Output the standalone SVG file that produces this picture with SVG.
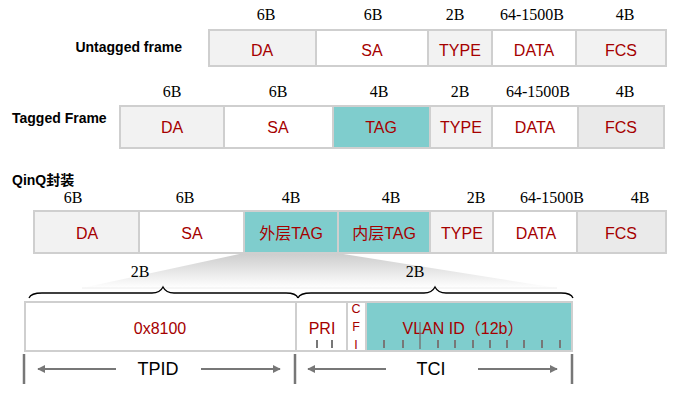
<svg xmlns="http://www.w3.org/2000/svg" width="674" height="398" viewBox="0 0 674 398">
<style>
.cell{stroke:#cfcfcf;stroke-width:2}
.g{fill:#f2f2f2}.w{fill:#ffffff}.t{fill:#7fcdcd}.d{fill:#eaeaea}
.lbl{font-family:"Liberation Sans","Noto Sans CJK SC",sans-serif;font-size:16px;fill:#a50000;text-anchor:middle}
.cfi{font-size:12.5px}
.sz{font-family:"Liberation Serif",serif;font-size:16px;fill:#000;text-anchor:middle}
.hd{font-family:"Liberation Sans","Noto Sans CJK SC",sans-serif;font-size:14px;font-weight:bold;fill:#000}
.dim{font-family:"Liberation Sans",sans-serif;font-size:18px;fill:#000;text-anchor:middle}
.tick{stroke:#777;stroke-width:2}
.arr{stroke:#777;stroke-width:2;fill:none}
.brace{stroke:#000;stroke-width:1.3;fill:none}
</style>
<defs>
<linearGradient id="fan" x1="0" y1="0" x2="0" y2="1">
<stop offset="0" stop-color="#cccccc"/>
<stop offset="1" stop-color="#ffffff"/>
</linearGradient>
<marker id="ah" viewBox="0 0 10 10" refX="9" refY="5" markerWidth="4" markerHeight="4" orient="auto-start-reverse">
<path d="M0,0 L10,5 L0,10 z" fill="#777"/>
</marker>
</defs>

<text class="hd" x="182" y="52" text-anchor="end">Untagged frame</text>
<text class="hd" x="12" y="123">Tagged Frame</text>
<text class="hd" x="12" y="185">QinQ封装</text>

<g id="untagged">
<rect class="cell g" x="209" y="30" width="107" height="36"/>
<rect class="cell w" x="316" y="30" width="112" height="36"/>
<rect class="cell g" x="428" y="30" width="64" height="36"/>
<rect class="cell w" x="492" y="30" width="84" height="36"/>
<rect class="cell g" x="576" y="30" width="90" height="36"/>
<text class="lbl" x="262" y="56">DA</text>
<text class="lbl" x="372" y="56">SA</text>
<text class="lbl" x="460" y="56">TYPE</text>
<text class="lbl" x="534" y="56">DATA</text>
<text class="lbl" x="621" y="56">FCS</text>
<text class="sz" x="266" y="20">6B</text>
<text class="sz" x="373" y="20">6B</text>
<text class="sz" x="455" y="20">2B</text>
<text class="sz" x="532" y="20">64-1500B</text>
<text class="sz" x="625" y="20">4B</text>
</g>

<g id="tagged">
<rect class="cell g" x="120" y="106" width="104" height="42"/>
<rect class="cell w" x="224" y="106" width="109" height="42"/>
<rect class="cell t" x="333" y="106" width="97" height="42"/>
<rect class="cell g" x="430" y="106" width="62" height="42"/>
<rect class="cell w" x="492" y="106" width="86" height="42"/>
<rect class="cell d" x="578" y="106" width="86" height="42"/>
<text class="lbl" x="172" y="133">DA</text>
<text class="lbl" x="278" y="133">SA</text>
<text class="lbl" x="381" y="133">TAG</text>
<text class="lbl" x="461" y="133">TYPE</text>
<text class="lbl" x="535" y="133">DATA</text>
<text class="lbl" x="621" y="133">FCS</text>
<text class="sz" x="172" y="97">6B</text>
<text class="sz" x="278" y="97">6B</text>
<text class="sz" x="379" y="97">4B</text>
<text class="sz" x="460" y="97">2B</text>
<text class="sz" x="538" y="97">64-1500B</text>
<text class="sz" x="625" y="97">4B</text>
</g>

<g id="fan-shape">
<polygon points="244,253 337,253 557,288 82,288" fill="url(#fan)"/>
<polyline points="82,288 557,288" stroke="#eeeeee" stroke-width="1" fill="none"/>
</g>

<g id="qinq">
<rect class="cell g" x="34" y="211" width="105" height="42"/>
<rect class="cell w" x="139" y="211" width="105" height="42"/>
<rect class="cell t" x="244" y="211" width="94" height="42"/>
<rect class="cell t" x="338" y="211" width="92" height="42"/>
<rect class="cell g" x="430" y="211" width="63" height="42"/>
<rect class="cell w" x="493" y="211" width="84" height="42"/>
<rect class="cell d" x="577" y="211" width="89" height="42"/>
<text class="lbl" x="87" y="239">DA</text>
<text class="lbl" x="192" y="239">SA</text>
<text class="lbl" x="291" y="239">外层TAG</text>
<text class="lbl" x="384" y="239">内层TAG</text>
<text class="lbl" x="462" y="239">TYPE</text>
<text class="lbl" x="536" y="239">DATA</text>
<text class="lbl" x="621" y="239">FCS</text>
<text class="sz" x="73" y="203">6B</text>
<text class="sz" x="185" y="203">6B</text>
<text class="sz" x="291" y="203">4B</text>
<text class="sz" x="391" y="203">4B</text>
<text class="sz" x="476" y="203">2B</text>
<text class="sz" x="552" y="203">64-1500B</text>
<text class="sz" x="640" y="203">4B</text>
</g>

<g id="braces">
<path class="brace" d="M29,298 Q31,293 42,293 L152,293 Q160,293 163,287 Q166,293 174,293 L286,293 Q296,293 298,298"/>
<path class="brace" d="M298,298 Q300,293 311,293 L424,293 Q432,293 435,287 Q438,293 446,293 L561,293 Q571,293 573,298"/>
<text class="sz" x="140" y="277">2B</text>
<text class="sz" x="415" y="277">2B</text>
</g>

<g id="tag-detail">
<rect class="cell w" x="25" y="302" width="271" height="49"/>
<rect class="cell w" x="296" y="302" width="51" height="49"/>
<rect class="cell w" x="347" y="302" width="19" height="49"/>
<rect class="cell t" x="366" y="302" width="206" height="49"/>
<text class="lbl" x="160" y="334">0x8100</text>
<text class="lbl" x="322" y="334">PRI</text>
<text class="lbl cfi" x="356" y="313">C</text>
<text class="lbl cfi" x="356" y="331">F</text>
<text class="lbl cfi" x="356" y="349">I</text>
<text class="lbl" x="463" y="334">VLAN ID（12b）</text>
<g id="ticks">
<line class="tick" x1="317" y1="340" x2="317" y2="348"/>
<line class="tick" x1="332" y1="340" x2="332" y2="348"/>
<line class="tick" x1="384" y1="340" x2="384" y2="348"/>
<line class="tick" x1="403" y1="340" x2="403" y2="348"/>
<line class="tick" x1="420" y1="322" x2="420" y2="349" style="stroke-width:1.5"/>
<line class="tick" x1="438" y1="340" x2="438" y2="348"/>
<line class="tick" x1="455" y1="340" x2="455" y2="348"/>
<line class="tick" x1="473" y1="340" x2="473" y2="348"/>
<line class="tick" x1="490" y1="340" x2="490" y2="348"/>
<line class="tick" x1="507" y1="340" x2="507" y2="348"/>
<line class="tick" x1="524" y1="340" x2="524" y2="348"/>
<line class="tick" x1="542" y1="340" x2="542" y2="348"/>
<line class="tick" x1="560" y1="340" x2="560" y2="348"/>
</g>
</g>

<g id="connectors">
<line class="arr" x1="24" y1="354" x2="24" y2="384" style="stroke-width:2.5"/>
<line class="arr" x1="295" y1="354" x2="295" y2="384" style="stroke-width:2.5"/>
<line class="arr" x1="572" y1="354" x2="572" y2="384" style="stroke-width:2.5"/>
<line class="arr" x1="116" y1="369" x2="38" y2="369" marker-end="url(#ah)"/>
<line class="arr" x1="201" y1="369" x2="280" y2="369" marker-end="url(#ah)"/>
<line class="arr" x1="386" y1="369" x2="308" y2="369" marker-end="url(#ah)"/>
<line class="arr" x1="478" y1="369" x2="557" y2="369" marker-end="url(#ah)"/>
</g>
<text class="dim" x="158" y="375">TPID</text>
<text class="dim" x="431" y="375">TCI</text>
</svg>
